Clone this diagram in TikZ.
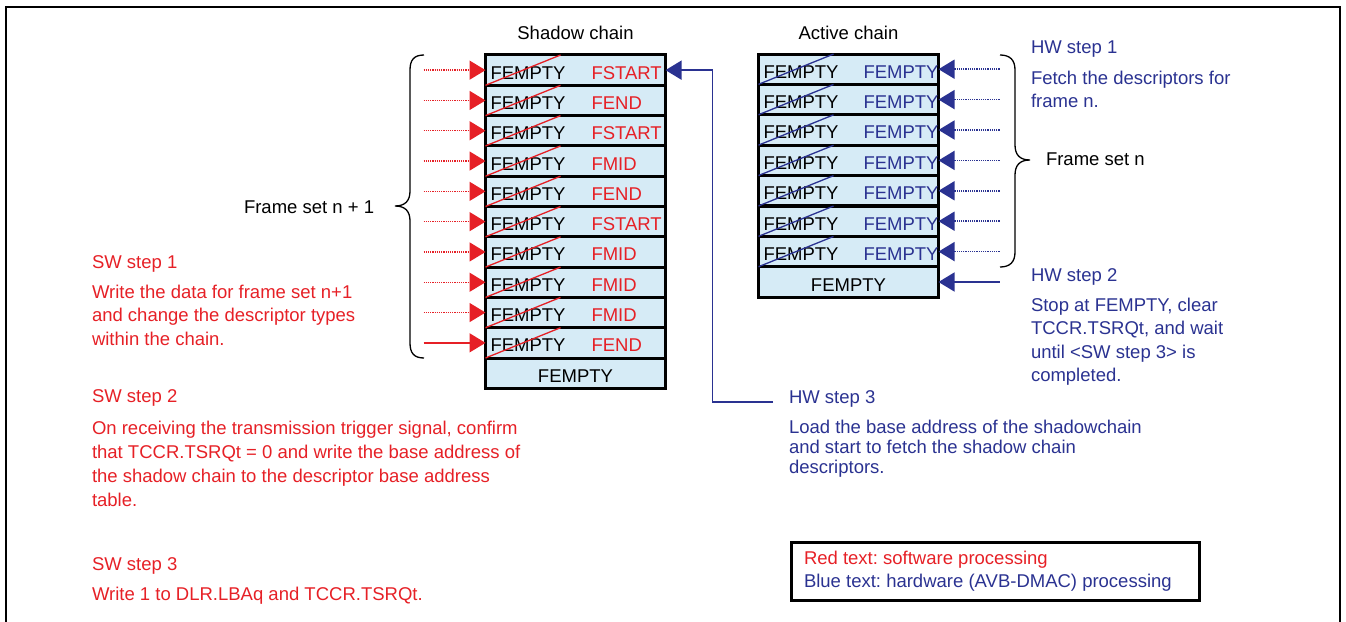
\documentclass[tikz,border=0pt]{standalone}
\usepackage{fontspec}
\setmainfont{Liberation Sans}
\usetikzlibrary{arrows.meta,calc}
\definecolor{swred}{RGB}{230,32,38}
\definecolor{hwblue}{RGB}{42,50,145}
\definecolor{cellfill}{RGB}{214,235,246}
\frenchspacing
\begin{document}
\begin{tikzpicture}[x=1bp,y=-1bp,
  txt/.style={font=\fontsize{18.5bp}{22bp}\selectfont, inner sep=0, outer sep=0, anchor=base west},
  cell/.style={draw=black, line width=3bp, fill=cellfill, minimum width=180bp, minimum height=30.3bp, inner sep=0, outer sep=0},
  swarrow/.style={draw=swred, line width=1.5bp, -{Triangle[length=16bp,width=19bp]}},
  hwarrow/.style={draw=hwblue, line width=1.5bp, -{Triangle[length=16bp,width=19bp]}},
  dots/.style={dash pattern=on 1.2bp off 1bp},
  strike/.style={line width=1.3bp},
  bracestyle/.style={draw=black, line width=1.3bp},
  frame/.style={draw=black, line width=2bp}]
\useasboundingbox (0,0) rectangle (1346,622);
% outer frame
\draw[frame] (6,623) -- (6,7) -- (1340,7) -- (1340,623);

% titles
\node[txt, anchor=base] (tshadow) at (575.5,40) {Shadow chain};
\node[txt, anchor=base] (tactive) at (848.5,40) {Active chain};

% shadow chain cells
\foreach \i in {1,...,11} {
  \node[cell] (s\i) at (575.5, {55+(\i-0.5)*30.3}) {};
}
\foreach \i/\lab in {1/FSTART,2/FEND,3/FSTART,4/FMID,5/FEND,6/FSTART,7/FMID,8/FMID,9/FMID,10/FEND} {
  \node[txt] (sl\i) at ($(s\i.west)+(5,9)$) {FEMPTY};
  \node[txt, text=swred] (sr\i) at ($(s\i.west)+(106,9)$) {\lab};
  \draw[swred, strike] (s\i.south west) -- ($(s\i.north west)+(75,0)$);
  \coordinate (ls\i) at ($(s\i.west)+(-62,0)$);
}
\node[txt, anchor=base] (sl11) at ($(s11.center)+(0,9)$) {FEMPTY};
\foreach \i in {1,...,9} {
  \draw[swarrow, dots] (ls\i) -- (s\i.west);
}
\draw[swarrow] (ls10) -- (s10.west);

% active chain cells
\foreach \i in {1,...,8} {
  \node[cell] (a\i) at (848.5, {54+(\i-0.5)*30.4}) {};
}
\foreach \i in {1,...,7} {
  \node[txt] (al\i) at ($(a\i.west)+(5,9)$) {FEMPTY};
  \node[txt, text=hwblue] (ar\i) at ($(a\i.west)+(105,9)$) {FEMPTY};
  \draw[hwblue, strike] (a\i.south west) -- ($(a\i.north west)+(75,0)$);
}
\node[txt, anchor=base] (al8) at ($(a8.center)+(0,9)$) {FEMPTY};
\foreach \i in {1,...,8} {
  \coordinate (ra\i) at ($(a\i.east)+(61,0)$);
}
\foreach \i in {1,...,7} {
  \draw[hwarrow, dots] (ra\i) -- (a\i.east);
}
\draw[hwarrow] (ra8) -- (a8.east);

% HW step 3 connector
\coordinate (h3end) at (773,402);
\draw[hwarrow] (h3end) -| ($(s1.east)+(47,0)$) -- (s1.east);

% braces
\draw[bracestyle] (424,55) .. controls (414,55) and (410,60) .. (410,70) -- (410,191)
  .. controls (410,201) and (405,206) .. (395,206)
  .. controls (405,206) and (410,211) .. (410,221) -- (410,343)
  .. controls (410,353) and (414,358) .. (424,358);
\draw[bracestyle] (1000,55) .. controls (1010,55) and (1015,60) .. (1015,70) -- (1015,145)
  .. controls (1015,155) and (1020,160) .. (1030,160)
  .. controls (1020,160) and (1015,165) .. (1015,175) -- (1015,252)
  .. controls (1015,262) and (1010,267) .. (1000,267);

\node[txt] (fsn1) at (244,213) {Frame set n + 1};
\node[txt] (fsn) at (1046,166) {Frame set n};

% SW texts
\begin{scope}[every node/.append style={text=swred}]
\node[txt] (sw1) at (92,268) {SW step 1};
\node[txt] (sw1a) at (92,298) {Write the data for frame set n+1};
\node[txt] (sw1b) at (92,321.5) {and change the descriptor types};
\node[txt] (sw1c) at (92,345) {within the chain.};
\node[txt] (sw2) at (92,402) {SW step 2};
\node[txt] (sw2a) at (92,434) {On receiving the transmission trigger signal, confirm};
\node[txt] (sw2b) at (92,458) {that TCCR.TSRQt = 0 and write the base address of};
\node[txt] (sw2c) at (92,482) {the shadow chain to the descriptor base address};
\node[txt] (sw2d) at (92,506) {table.};
\node[txt] (sw3) at (92,570) {SW step 3};
\node[txt] (sw3a) at (92,600) {Write 1 to DLR.LBAq and TCCR.TSRQt.};
\end{scope}

% HW texts
\begin{scope}[every node/.append style={text=hwblue}]
\node[txt] (hw1) at (1031,54) {HW step 1};
\node[txt] (hw1a) at (1031,85) {Fetch the descriptors for};
\node[txt] (hw1b) at (1031,108) {frame n.};
\node[txt] (hw2) at (1031,281) {HW step 2};
\node[txt] (hw2a) at (1031,311) {Stop at FEMPTY, clear};
\node[txt] (hw2b) at (1031,334.5) {TCCR.TSRQt, and wait};
\node[txt] (hw2c) at (1031,358) {until <SW step 3> is};
\node[txt] (hw2d) at (1031,381.5) {completed.};
\node[txt] (hw3) at (789,403) {HW step 3};
\node[txt] (hw3a) at (789,433) {Load the base address of the shadowchain};
\node[txt] (hw3b) at (789,453) {and start to fetch the shadow chain};
\node[txt] (hw3c) at (789,473) {descriptors.};
\end{scope}

% legend
\node[draw=black, line width=3bp, minimum width=408bp, minimum height=58bp, inner sep=0, anchor=north west] (legend) at (790,541) {};
\node[txt, text=swred] (leg1) at (804,564) {Red text: software processing};
\node[txt, text=hwblue] (leg2) at (804,587) {Blue text: hardware (AVB-DMAC) processing};
\end{tikzpicture}
\end{document}
